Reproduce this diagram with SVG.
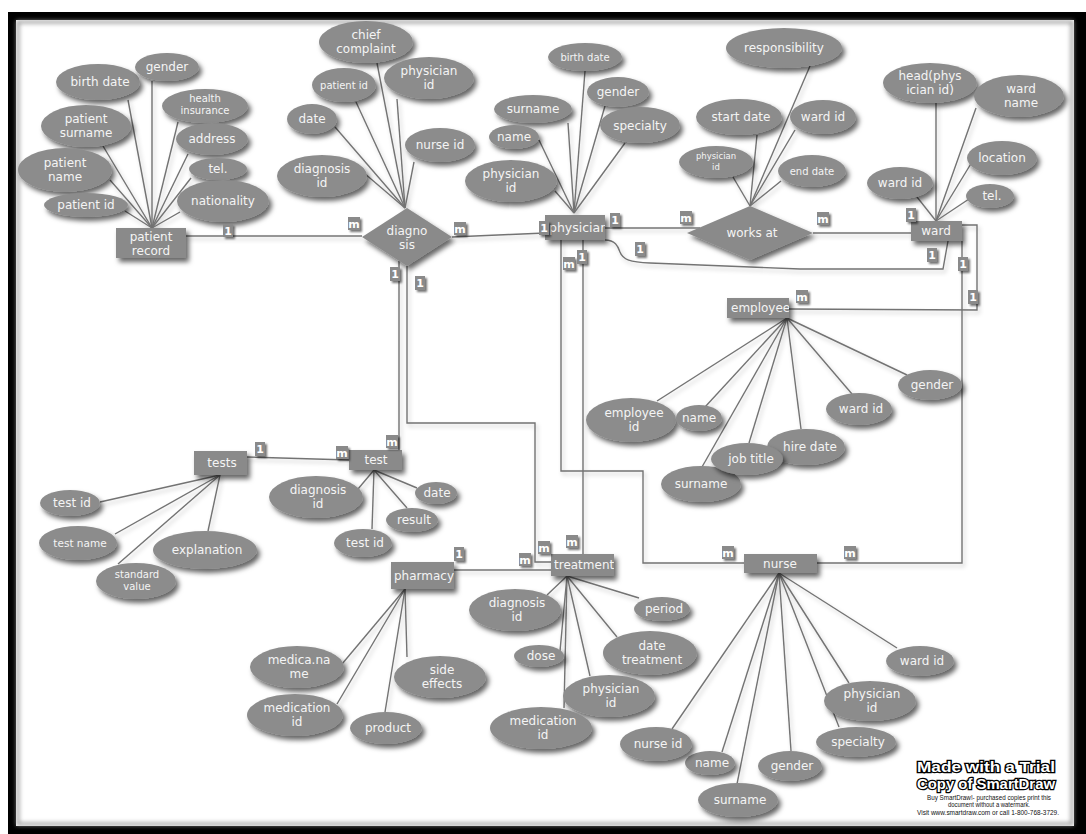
<svg xmlns="http://www.w3.org/2000/svg" width="1086" height="834" viewBox="0 0 1086 834">
<style>
.e{fill:#8c8c8c;filter:url(#sh)}
.r{fill:#8a8a8a;filter:url(#sh)}
.t{font-family:"DejaVu Sans",Verdana,sans-serif;font-size:12px;fill:#f4f4f4;text-anchor:middle}
.s{font-size:10px}
.xs{font-size:8.5px}
.c{stroke:#737373;stroke-width:1.4;fill:none}
.bd rect{fill:#8a8a8a;filter:url(#sh2)}
.bd text{font-family:"DejaVu Sans",Verdana,sans-serif;font-size:11px;font-weight:bold;fill:#fff;text-anchor:middle}
.wm{font-family:"Liberation Sans",Arial,sans-serif;font-weight:bold;font-size:15px;fill:#fff;stroke:#000;stroke-width:2.6;paint-order:stroke;text-anchor:middle}
.ws{font-family:"Liberation Sans",Arial,sans-serif;font-size:6.3px;fill:#111;text-anchor:middle}
</style>
<defs>
<filter id="sh" x="-30%" y="-30%" width="170%" height="180%">
<feDropShadow dx="3" dy="4" stdDeviation="2.4" flood-color="#000" flood-opacity="0.6"/>
</filter>
<filter id="sh2" x="-50%" y="-50%" width="220%" height="220%">
<feDropShadow dx="2" dy="2" stdDeviation="1.2" flood-color="#000" flood-opacity="0.55"/>
</filter>
<filter id="lsh" x="-5%" y="-5%" width="110%" height="110%">
<feDropShadow dx="2" dy="3" stdDeviation="2" flood-color="#000" flood-opacity="0.22"/>
</filter>
<filter id="fb"><feGaussianBlur stdDeviation="2"/></filter>
<clipPath id="cpPh"><rect x="545" y="215" width="60" height="25"/></clipPath>
<clipPath id="cpEm"><rect x="727" y="298" width="62" height="20"/></clipPath>
<clipPath id="cpPm"><rect x="391" y="562" width="63" height="27"/></clipPath>
<clipPath id="cpTr"><rect x="551" y="554" width="63" height="22"/></clipPath>
</defs>

<!-- frame -->
<rect x="0" y="0" width="1086" height="834" fill="#fff"/>
<rect x="8" y="12" width="1078" height="822" fill="#000"/>
<rect x="16" y="20" width="1058" height="806" fill="#fff"/>
<rect x="18" y="22" width="1054" height="802" fill="none" stroke="#9a9a9a" stroke-width="3" filter="url(#fb)"/>

<!-- connectors -->
<g id="connectors" filter="url(#lsh)">
<g class="c">
<!-- relationship lines -->
<line x1="186" y1="236" x2="362" y2="236"/>
<line x1="452" y1="237" x2="545" y2="233"/>
<line x1="605" y1="228" x2="700" y2="228"/>
<line x1="813" y1="233" x2="911" y2="233"/>
<path d="M605,240 C615,240 618,246 620,252 C623,260 630,262 650,263 L800,269 L943,269 L948,241"/>
<path d="M962,225 L977,225 L977,310 L789,309"/>
<path d="M962,241 L962,563 L817,563"/>
<path d="M561,240 L561,471 L643,471 L643,563 L744,563"/>
<line x1="583" y1="240" x2="583" y2="554"/>
<line x1="399" y1="261" x2="399" y2="450"/>
<path d="M407,266 L407,423 L535,423 L535,562 L551,562"/>
<path d="M247,457 L349,460"/>
<line x1="454" y1="570" x2="551" y2="570"/>
<!-- patient record attributes -->
<line x1="152" y1="228" x2="128" y2="100"/>
<line x1="152" y1="228" x2="152" y2="81"/>
<line x1="152" y1="228" x2="178" y2="122"/>
<line x1="152" y1="228" x2="188" y2="154"/>
<line x1="152" y1="228" x2="191" y2="178"/>
<line x1="152" y1="228" x2="180" y2="212"/>
<line x1="152" y1="228" x2="103" y2="146"/>
<line x1="152" y1="228" x2="110" y2="180"/>
<line x1="152" y1="228" x2="125" y2="211"/>
<!-- diagnosis attributes -->
<line x1="405" y1="208" x2="377" y2="63"/>
<line x1="405" y1="208" x2="397" y2="99"/>
<line x1="405" y1="208" x2="414" y2="162"/>
<line x1="405" y1="208" x2="356" y2="102"/>
<line x1="405" y1="208" x2="335" y2="127"/>
<line x1="405" y1="208" x2="364" y2="173"/>
<!-- physician attributes -->
<line x1="574" y1="213" x2="585" y2="71"/>
<line x1="574" y1="213" x2="605" y2="106"/>
<line x1="574" y1="213" x2="568" y2="123"/>
<line x1="574" y1="213" x2="625" y2="143"/>
<line x1="574" y1="213" x2="539" y2="140"/>
<line x1="574" y1="213" x2="555" y2="191"/>
<!-- works at attributes -->
<line x1="750" y1="206" x2="810" y2="66"/>
<line x1="750" y1="206" x2="757" y2="135"/>
<line x1="750" y1="206" x2="795" y2="130"/>
<line x1="750" y1="206" x2="781" y2="181"/>
<line x1="750" y1="206" x2="733" y2="177"/>
<!-- ward attributes -->
<line x1="936" y1="221" x2="936" y2="103"/>
<line x1="936" y1="221" x2="976" y2="108"/>
<line x1="936" y1="221" x2="972" y2="162"/>
<line x1="936" y1="221" x2="969" y2="199"/>
<line x1="936" y1="221" x2="917" y2="197"/>
<!-- employee attributes -->
<line x1="787" y1="318" x2="657" y2="401"/>
<line x1="787" y1="318" x2="705" y2="407"/>
<line x1="787" y1="318" x2="702" y2="467"/>
<line x1="787" y1="318" x2="749" y2="443"/>
<line x1="787" y1="318" x2="801" y2="429"/>
<line x1="787" y1="318" x2="852" y2="394"/>
<line x1="787" y1="318" x2="907" y2="375"/>
<!-- test attributes -->
<line x1="374" y1="470" x2="358" y2="489"/>
<line x1="374" y1="470" x2="372" y2="529"/>
<line x1="374" y1="470" x2="407" y2="508"/>
<line x1="374" y1="470" x2="417" y2="488"/>
<!-- tests attributes -->
<line x1="220" y1="475" x2="100" y2="502"/>
<line x1="220" y1="475" x2="115" y2="534"/>
<line x1="220" y1="475" x2="118" y2="564"/>
<line x1="220" y1="475" x2="208" y2="531"/>
<!-- pharmacy attributes -->
<line x1="405" y1="589" x2="342" y2="664"/>
<line x1="405" y1="589" x2="337" y2="704"/>
<line x1="405" y1="589" x2="385" y2="712"/>
<line x1="405" y1="589" x2="407" y2="657"/>
<!-- treatment attributes -->
<line x1="567" y1="576" x2="547" y2="595"/>
<line x1="567" y1="576" x2="560" y2="651"/>
<line x1="567" y1="576" x2="564" y2="708"/>
<line x1="567" y1="576" x2="590" y2="676"/>
<line x1="567" y1="576" x2="617" y2="637"/>
<line x1="567" y1="576" x2="639" y2="598"/>
<!-- nurse attributes -->
<line x1="779" y1="573" x2="672" y2="729"/>
<line x1="779" y1="573" x2="722" y2="752"/>
<line x1="779" y1="573" x2="737" y2="784"/>
<line x1="779" y1="573" x2="791" y2="751"/>
<line x1="779" y1="573" x2="839" y2="727"/>
<line x1="779" y1="573" x2="849" y2="683"/>
<line x1="779" y1="573" x2="897" y2="648"/>
</g>
</g>

<!-- patient record -->
<g id="patient_record"><rect class="r" x="116" y="228" width="70" height="30"/><text class="t" x="151" y="241">patient</text><text class="t" x="151" y="255">record</text></g>
<g id="pr_birth"><ellipse class="e" cx="98" cy="82" rx="42" ry="18"/><text class="t" x="100" y="86">birth date</text></g>
<g id="pr_gender"><ellipse class="e" cx="167" cy="67" rx="32" ry="14"/><text class="t" x="167" y="71">gender</text></g>
<g id="pr_health"><ellipse class="e" cx="205" cy="106" rx="43" ry="17"/><text class="t s" x="205" y="102">health</text><text class="t s" x="205" y="114">insurance</text></g>
<g id="pr_surname"><ellipse class="e" cx="86" cy="126" rx="45" ry="21"/><text class="t" x="86" y="123">patient</text><text class="t" x="86" y="137">surname</text></g>
<g id="pr_address"><ellipse class="e" cx="212" cy="139" rx="36" ry="16"/><text class="t" x="212" y="143">address</text></g>
<g id="pr_name"><ellipse class="e" cx="65" cy="170" rx="47" ry="22"/><text class="t" x="65" y="167">patient</text><text class="t" x="65" y="181">name</text></g>
<g id="pr_tel"><ellipse class="e" cx="218" cy="169" rx="29" ry="11"/><text class="t" x="218" y="173">tel.</text></g>
<g id="pr_id"><ellipse class="e" cx="86" cy="205" rx="42" ry="12"/><text class="t" x="86" y="209">patient id</text></g>
<g id="pr_nationality"><ellipse class="e" cx="223" cy="201" rx="46" ry="21"/><text class="t" x="223" y="205">nationality</text></g>

<!-- diagnosis -->
<g id="diagnosis"><polygon class="r" points="362,237 407,208 452,237 407,266"/><text class="t" x="407" y="235">diagno</text><text class="t" x="407" y="249">sis</text></g>
<g id="dg_chief"><ellipse class="e" cx="366" cy="42" rx="47" ry="21"/><text class="t" x="366" y="39">chief</text><text class="t" x="366" y="53">complaint</text></g>
<g id="dg_patient_id"><ellipse class="e" cx="344" cy="85" rx="32" ry="17"/><text class="t s" x="344" y="89">patient id</text></g>
<g id="dg_physician_id"><ellipse class="e" cx="429" cy="78" rx="45" ry="21"/><text class="t" x="429" y="75">physician</text><text class="t" x="429" y="89">id</text></g>
<g id="dg_date"><ellipse class="e" cx="312" cy="119" rx="25" ry="15"/><text class="t" x="312" y="123">date</text></g>
<g id="dg_nurse_id"><ellipse class="e" cx="440" cy="145" rx="35" ry="17"/><text class="t" x="440" y="149">nurse id</text></g>
<g id="dg_diagnosis_id"><ellipse class="e" cx="322" cy="176" rx="45" ry="21"/><text class="t" x="322" y="173">diagnosis</text><text class="t" x="322" y="187">id</text></g>

<!-- physician -->
<g id="physician"><rect class="r" x="545" y="215" width="60" height="25"/><text class="t" x="549" y="232" style="text-anchor:start;font-size:12.5px" clip-path="url(#cpPh)">physician</text></g>
<g id="ph_birth"><ellipse class="e" cx="585" cy="57" rx="37" ry="14"/><text class="t s" x="585" y="61">birth date</text></g>
<g id="ph_surname"><ellipse class="e" cx="533" cy="109" rx="39" ry="14"/><text class="t" x="533" y="113">surname</text></g>
<g id="ph_gender"><ellipse class="e" cx="618" cy="92" rx="31" ry="15"/><text class="t" x="618" y="96">gender</text></g>
<g id="ph_specialty"><ellipse class="e" cx="640" cy="125" rx="40" ry="18"/><text class="t" x="640" y="130">specialty</text></g>
<g id="ph_name"><ellipse class="e" cx="514" cy="137" rx="25" ry="12"/><text class="t" x="514" y="141">name</text></g>
<g id="ph_id"><ellipse class="e" cx="511" cy="181" rx="46" ry="21"/><text class="t" x="511" y="178">physician</text><text class="t" x="511" y="192">id</text></g>

<!-- works at -->
<g id="works_at"><polygon class="r" points="687,233 750,206 813,233 750,260"/><text class="t" x="752" y="237">works at</text></g>
<g id="wa_responsibility"><ellipse class="e" cx="784" cy="48" rx="58" ry="20"/><text class="t" x="784" y="52">responsibility</text></g>
<g id="wa_start"><ellipse class="e" cx="739" cy="117" rx="43" ry="18"/><text class="t" x="741" y="121">start date</text></g>
<g id="wa_ward_id"><ellipse class="e" cx="823" cy="117" rx="33" ry="17"/><text class="t" x="823" y="121">ward id</text></g>
<g id="wa_physician_id"><ellipse class="e" cx="716" cy="162" rx="37" ry="16"/><text class="t xs" x="716" y="159">physician</text><text class="t xs" x="716" y="170">id</text></g>
<g id="wa_end"><ellipse class="e" cx="812" cy="171" rx="34" ry="16"/><text class="t s" x="812" y="175">end date</text></g>

<!-- ward -->
<g id="ward"><rect class="r" x="911" y="221" width="51" height="20"/><text class="t" x="936" y="235">ward</text></g>
<g id="w_head"><ellipse class="e" cx="930" cy="83" rx="47" ry="20"/><text class="t" x="930" y="80">head(phys</text><text class="t" x="930" y="94">ician id)</text></g>
<g id="w_name"><ellipse class="e" cx="1019" cy="96" rx="45" ry="21"/><text class="t" x="1021" y="93">ward</text><text class="t" x="1021" y="107">name</text></g>
<g id="w_location"><ellipse class="e" cx="1002" cy="158" rx="35" ry="17"/><text class="t" x="1002" y="162">location</text></g>
<g id="w_ward_id"><ellipse class="e" cx="900" cy="183" rx="33" ry="16"/><text class="t" x="900" y="187">ward id</text></g>
<g id="w_tel"><ellipse class="e" cx="990" cy="196" rx="24" ry="12"/><text class="t" x="992" y="200">tel.</text></g>

<!-- employee -->
<g id="employee"><rect class="r" x="727" y="298" width="62" height="20"/><text class="t" x="731" y="312" style="text-anchor:start" clip-path="url(#cpEm)">employee</text></g>
<g id="em_gender"><ellipse class="e" cx="930" cy="385" rx="32" ry="15"/><text class="t" x="932" y="389">gender</text></g>
<g id="em_ward_id"><ellipse class="e" cx="859" cy="409" rx="33" ry="16"/><text class="t" x="861" y="413">ward id</text></g>
<g id="em_surname"><ellipse class="e" cx="701" cy="484" rx="40" ry="18"/><text class="t" x="701" y="488">surname</text></g>
<g id="em_hire"><ellipse class="e" cx="806" cy="447" rx="39" ry="18"/><text class="t" x="810" y="451">hire date</text></g>
<g id="em_job"><ellipse class="e" cx="747" cy="459" rx="36" ry="16"/><text class="t" x="751" y="463">job title</text></g>
<g id="em_id"><ellipse class="e" cx="631" cy="420" rx="45" ry="22"/><text class="t" x="634" y="417">employee</text><text class="t" x="634" y="431">id</text></g>
<g id="em_name"><ellipse class="e" cx="699" cy="418" rx="23" ry="13"/><text class="t" x="699" y="422">name</text></g>

<!-- tests -->
<g id="tests"><rect class="r" x="194" y="451" width="53" height="24"/><text class="t" x="222" y="467">tests</text></g>
<g id="ts_id"><ellipse class="e" cx="70" cy="503" rx="30" ry="13"/><text class="t" x="72" y="507">test id</text></g>
<g id="ts_name"><ellipse class="e" cx="78" cy="543" rx="39" ry="17"/><text class="t" x="80" y="547" style="font-size:10.5px">test name</text></g>
<g id="ts_explanation"><ellipse class="e" cx="205" cy="550" rx="52" ry="19"/><text class="t" x="207" y="554">explanation</text></g>
<g id="ts_standard"><ellipse class="e" cx="136" cy="581" rx="40" ry="18"/><text class="t s" x="137" y="578">standard</text><text class="t s" x="137" y="590">value</text></g>

<!-- test -->
<g id="test"><rect class="r" x="349" y="450" width="53" height="20"/><text class="t" x="376" y="464">test</text></g>
<g id="t_diagnosis_id"><ellipse class="e" cx="316" cy="497" rx="47" ry="21"/><text class="t" x="318" y="494">diagnosis</text><text class="t" x="318" y="508">id</text></g>
<g id="t_date"><ellipse class="e" cx="436" cy="493" rx="21" ry="11"/><text class="t" x="437" y="497">date</text></g>
<g id="t_result"><ellipse class="e" cx="412" cy="520" rx="26" ry="12"/><text class="t" x="414" y="524">result</text></g>
<g id="t_test_id"><ellipse class="e" cx="363" cy="543" rx="29" ry="14"/><text class="t" x="365" y="547">test id</text></g>

<!-- pharmacy -->
<g id="pharmacy"><rect class="r" x="391" y="562" width="63" height="27"/><text class="t" x="394" y="580" style="text-anchor:start" clip-path="url(#cpPm)">pharmacy</text></g>
<g id="pm_medica_name"><ellipse class="e" cx="297" cy="667" rx="47" ry="21"/><text class="t" x="299" y="664">medica.na</text><text class="t" x="299" y="678">me</text></g>
<g id="pm_medication_id"><ellipse class="e" cx="295" cy="715" rx="48" ry="21"/><text class="t" x="297" y="712">medication</text><text class="t" x="297" y="726">id</text></g>
<g id="pm_product"><ellipse class="e" cx="386" cy="728" rx="36" ry="16"/><text class="t" x="388" y="732">product</text></g>
<g id="pm_side_effects"><ellipse class="e" cx="440" cy="677" rx="46" ry="21"/><text class="t" x="442" y="674">side</text><text class="t" x="442" y="688">effects</text></g>

<!-- treatment -->
<g id="treatment"><rect class="r" x="551" y="554" width="63" height="22"/><text class="t" x="554" y="569" style="text-anchor:start" clip-path="url(#cpTr)">treatment</text></g>
<g id="tr_diagnosis_id"><ellipse class="e" cx="515" cy="610" rx="46" ry="21"/><text class="t" x="517" y="607">diagnosis</text><text class="t" x="517" y="621">id</text></g>
<g id="tr_period"><ellipse class="e" cx="662" cy="609" rx="28" ry="12"/><text class="t" x="664" y="613">period</text></g>
<g id="tr_dose"><ellipse class="e" cx="539" cy="656" rx="25" ry="11"/><text class="t" x="541" y="660">dose</text></g>
<g id="tr_date"><ellipse class="e" cx="650" cy="653" rx="47" ry="22"/><text class="t" x="652" y="650">date</text><text class="t" x="652" y="664">treatment</text></g>
<g id="tr_physician_id"><ellipse class="e" cx="609" cy="696" rx="46" ry="21"/><text class="t" x="611" y="693">physician</text><text class="t" x="611" y="707">id</text></g>
<g id="tr_medication_id"><ellipse class="e" cx="541" cy="728" rx="51" ry="21"/><text class="t" x="543" y="725">medication</text><text class="t" x="543" y="739">id</text></g>

<!-- nurse -->
<g id="nurse"><rect class="r" x="744" y="554" width="73" height="19"/><text class="t" x="780" y="568">nurse</text></g>
<g id="n_ward_id"><ellipse class="e" cx="920" cy="661" rx="34" ry="15"/><text class="t" x="922" y="665">ward id</text></g>
<g id="n_physician_id"><ellipse class="e" cx="870" cy="701" rx="46" ry="20"/><text class="t" x="872" y="698">physician</text><text class="t" x="872" y="712">id</text></g>
<g id="n_specialty"><ellipse class="e" cx="856" cy="742" rx="40" ry="15"/><text class="t" x="858" y="746">specialty</text></g>
<g id="n_gender"><ellipse class="e" cx="790" cy="766" rx="32" ry="15"/><text class="t" x="792" y="770">gender</text></g>
<g id="n_surname"><ellipse class="e" cx="738" cy="800" rx="40" ry="17"/><text class="t" x="740" y="804">surname</text></g>
<g id="n_name"><ellipse class="e" cx="710" cy="763" rx="25" ry="12"/><text class="t" x="712" y="767">name</text></g>
<g id="n_nurse_id"><ellipse class="e" cx="656" cy="744" rx="36" ry="17"/><text class="t" x="658" y="748">nurse id</text></g>

<!-- cardinality labels -->
<g id="cardinality">
<g class="bd"><rect x="223" y="224" width="10" height="13"/><text x="228" y="235">1</text></g>
<g class="bd"><rect x="348" y="217" width="12" height="13"/><text x="354" y="228">m</text></g>
<g class="bd"><rect x="454" y="222" width="12" height="13"/><text x="460" y="233">m</text></g>
<g class="bd"><rect x="539" y="221" width="10" height="14"/><text x="544" y="232">1</text></g>
<g class="bd"><rect x="610" y="213" width="10" height="14"/><text x="615" y="224">1</text></g>
<g class="bd"><rect x="680" y="211" width="12" height="13"/><text x="686" y="222">m</text></g>
<g class="bd"><rect x="635" y="242" width="10" height="14"/><text x="640" y="253">1</text></g>
<g class="bd"><rect x="817" y="212" width="12" height="13"/><text x="823" y="223">m</text></g>
<g class="bd"><rect x="906" y="208" width="10" height="14"/><text x="911" y="219">1</text></g>
<g class="bd"><rect x="927" y="248" width="10" height="14"/><text x="932" y="259">1</text></g>
<g class="bd"><rect x="958" y="257" width="10" height="14"/><text x="963" y="268">1</text></g>
<g class="bd"><rect x="968" y="290" width="10" height="14"/><text x="973" y="301">1</text></g>
<g class="bd"><rect x="796" y="290" width="12" height="13"/><text x="802" y="301">m</text></g>
<g class="bd"><rect x="563" y="257" width="12" height="13"/><text x="569" y="268">m</text></g>
<g class="bd"><rect x="577" y="250" width="10" height="14"/><text x="582" y="261">1</text></g>
<g class="bd"><rect x="390" y="267" width="10" height="14"/><text x="395" y="278">1</text></g>
<g class="bd"><rect x="415" y="276" width="10" height="14"/><text x="420" y="287">1</text></g>
<g class="bd"><rect x="255" y="442" width="10" height="14"/><text x="260" y="453">1</text></g>
<g class="bd"><rect x="336" y="446" width="12" height="13"/><text x="342" y="457">m</text></g>
<g class="bd"><rect x="386" y="435" width="12" height="13"/><text x="392" y="446">m</text></g>
<g class="bd"><rect x="454" y="547" width="10" height="14"/><text x="459" y="558">1</text></g>
<g class="bd"><rect x="519" y="553" width="12" height="13"/><text x="525" y="564">m</text></g>
<g class="bd"><rect x="538" y="541" width="12" height="13"/><text x="544" y="552">m</text></g>
<g class="bd"><rect x="566" y="535" width="12" height="13"/><text x="572" y="546">m</text></g>
<g class="bd"><rect x="722" y="546" width="12" height="13"/><text x="728" y="557">m</text></g>
<g class="bd"><rect x="844" y="546" width="12" height="13"/><text x="850" y="557">m</text></g>
</g>

<!-- watermark -->
<g id="watermark">
<text class="wm" x="986" y="772" textLength="138" lengthAdjust="spacingAndGlyphs">Made with a Trial</text>
<text class="wm" x="986" y="789" textLength="138" lengthAdjust="spacingAndGlyphs">Copy of SmartDraw</text>
<text class="ws" x="989" y="800" textLength="124" lengthAdjust="spacingAndGlyphs">Buy SmartDraw!- purchased copies print this</text>
<text class="ws" x="989" y="807" textLength="82" lengthAdjust="spacingAndGlyphs">document without a watermark.</text>
<text class="ws" x="988" y="815" textLength="142" lengthAdjust="spacingAndGlyphs">Visit www.smartdraw.com or call 1-800-768-3729.</text>
</g>
</svg>
